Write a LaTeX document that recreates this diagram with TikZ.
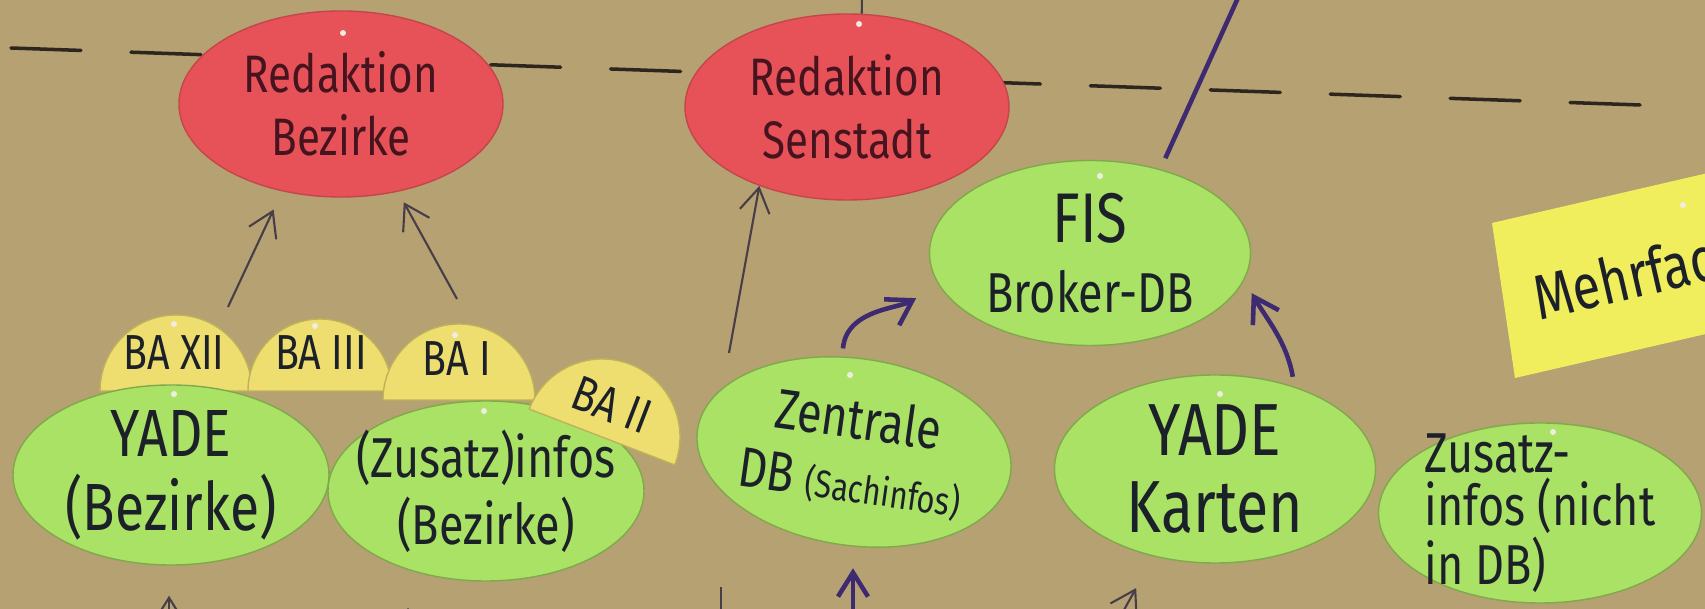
\documentclass[tikz,border=0pt]{standalone}
\usepackage{fontspec}
\setmainfont{Fira Sans}[FakeStretch=0.8]
\usetikzlibrary{shapes.geometric,arrows.meta}
\definecolor{paper}{RGB}{181,161,113}
\definecolor{cardred}{RGB}{231,82,88}
\definecolor{cardgreen}{RGB}{170,226,102}
\definecolor{cardba}{RGB}{238,222,112}
\definecolor{cardnote}{RGB}{240,238,92}
\definecolor{ink}{RGB}{28,32,40}
\definecolor{redink}{RGB}{70,20,30}
\definecolor{pencilink}{RGB}{72,62,72}
\definecolor{purpleink}{RGB}{62,42,112}
\definecolor{dashink}{RGB}{45,38,30}

\begin{document}
\begin{tikzpicture}[>={Straight Barb[length=2.4mm,width=3mm]},
  card/.style={ellipse, inner xsep=-5mm, inner ysep=-7mm, align=center, text=ink, line width=0.4pt},
  redcard/.style={card, fill=cardred, draw=cardred!85!black, minimum width=3.24cm, minimum height=1.86cm, text=redink, font=\fontsize{15}{18}\selectfont},
  greencard/.style={card, fill=cardgreen, draw=cardgreen!75!black, minimum width=3.16cm, minimum height=1.80cm},
  halfcard/.style={fill=cardba, draw=cardba!80!black, line width=0.4pt},
  balabel/.style={text=ink, inner sep=0pt, font=\fontsize{14}{14}\selectfont},
  pencilline/.style={draw=pencilink, line width=0.6pt},
  pencilarrow/.style={pencilline, ->},
  markerline/.style={draw=purpleink, line width=1.3pt},
  markerarrow/.style={markerline, ->},
  cutline/.style={draw=dashink, line width=1pt, dash pattern=on 7mm off 5mm, line cap=round},
  pin/.style={fill=white!80!paper}]
\useasboundingbox (0,0) rectangle (17.05,6.09);
\clip (0,0) rectangle (17.05,6.09);
\fill[paper] (0,0) rectangle (17.05,6.09);

\draw[cutline] (0.11,5.61) -- (16.69,5.03);

\fill[cardnote] (14.92,3.86) -- (17.9,4.55) -- (18.1,2.99) -- (15.15,2.31) -- cycle;
\node[rotate=13, anchor=base west, text=ink, font=\fontsize{18}{18}\selectfont] (mehrfach) at (15.27,2.86) {Mehrfach};

\begin{scope}
    \draw[halfcard] (1.00,2.18) arc (180:0:0.76) -- cycle;
    \draw[halfcard] (2.48,2.18) arc (180:0:0.72) -- cycle;
    \draw[halfcard] (3.83,2.09) arc (180:0:0.76) -- cycle;
    \node[balabel] (ba12) at (1.74,2.56) {BA XII};
    \node[balabel] (ba3) at (3.21,2.56) {BA III};
    \node[balabel] (ba1) at (4.57,2.50) {BA I};
\end{scope}

\node[redcard] (redbez) at (3.41,5.05) {Redaktion\\Bezirke};
\node[redcard] (redsen) at (8.47,5.02) {Redaktion\\Senstadt};
\node[greencard, minimum width=3.21cm, minimum height=1.85cm, font=\fontsize{16}{20}\selectfont] (fis) at (10.90,3.56) {{\fontsize{20}{20}\selectfont FIS}\\Broker-DB};
\node[greencard, font=\fontsize{19}{21}\selectfont] (yadebez) at (1.71,1.34) {YADE\\(Bezirke)};
\node[greencard, font=\fontsize{16}{19}\selectfont] (infobez) at (4.86,1.18) {(Zusatz)infos\\(Bezirke)};
\node[greencard, rotate=-8, minimum height=1.87cm, font=\fontsize{16}{18}\selectfont] (zentral) at (8.54,1.57) {Zentrale\\DB {\fontsize{11}{13}\selectfont(Sachinfos)}};
\node[greencard, minimum width=3.21cm, minimum height=1.88cm, font=\fontsize{21}{22}\selectfont] (yadekarten) at (12.15,1.40) {YADE\\Karten};
\node[greencard, minimum width=3.23cm, align=left, font=\fontsize{16}{15}\selectfont] (infonicht) at (15.40,0.96) {Zusatz-\\infos (nicht\\in DB)};

\begin{scope}[rotate around={-21:(6.02,1.72)}]
    \draw[halfcard] (5.24,1.72) arc (180:0:0.78) -- cycle;
\end{scope}
\node[balabel, rotate=-21] (ba2) at (6.12,2.04) {BA II};

\foreach \p in {(3.43,5.76),(8.59,5.85),(11.0,4.33),(1.74,2.15),(4.84,1.98),(8.50,2.34),(12.20,2.15),(15.53,1.77),(1.74,2.85),(3.15,2.83),(4.55,2.74),(16.83,4.04)}
    \fill[pin] \p circle (0.03);

\coordinate (t1) at (2.28,3.02);
\coordinate (t2) at (4.57,3.10);
\coordinate (t3) at (7.29,2.56);
\draw[pencilarrow, shorten >=2mm] (t1) -- (redbez.236);
\draw[pencilarrow, shorten >=1.2mm] (t2) -- (redbez.303);
\draw[pencilarrow] (t3) -- (redsen.222);
\coordinate (toptick) at (8.62,6.2);
\draw[pencilline] (redsen.81) -- (toptick);

\draw[markerarrow, shorten <=0.8mm, shorten >=2.6mm] (zentral.105) to[out=85,in=210] (fis.192);
\draw[markerarrow, shorten <=1mm, shorten >=1.5mm] (yadekarten.46) to[out=100,in=-60] (fis.-10);
\coordinate (topline) at (12.42,6.2);
\draw[markerline, shorten <=1.2mm] (fis.50) -- (topline);

\coordinate (b1) at (1.69,-0.4);
\coordinate (b2) at (4.08,-0.4);
\coordinate (b3) at (7.21,-0.3);
\coordinate (b4) at (8.53,-0.3);
\coordinate (b5) at (11.05,-0.35);
\draw[pencilarrow, shorten >=3mm] (b1) -- (yadebez.south -| b1);
\draw[pencilarrow, shorten >=2.6mm] (b2) -- (infobez.south -| b2);
\draw[pencilline, shorten >=4.2mm] (b3) -- (zentral.south -| b3);
\draw[markerarrow, shorten >=2.3mm] (b4) -- (zentral.south -| b4);
\draw[pencilarrow, shorten >=3.6mm] (b5) -- (yadekarten.235);
\end{tikzpicture}
\end{document}
